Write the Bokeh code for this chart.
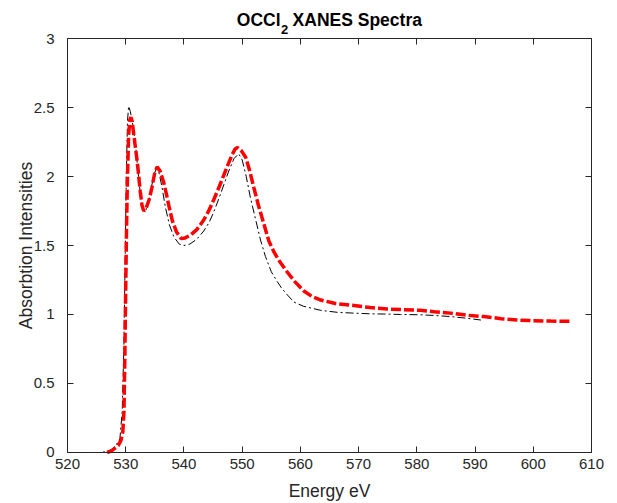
import math
from bokeh.plotting import figure
from bokeh.models import LinearAxis, Range1d, FixedTicker
from bokeh.core.properties import value
from bokeh.embed import file_html
from bokeh.resources import INLINE

# ---- data ----
x_ticks = [520, 530, 540, 550, 560, 570, 580, 590, 600, 610]
y_ticks = [0, 0.5, 1, 1.5, 2, 2.5, 3]
y_tick_labels = ["0", "0.5", "1", "1.5", "2", "2.5", "3"]
title_main = "OCCl"
title_sub = "2"
title_rest = "XANES Spectra"
x_label = "Energy eV"
y_label = "Absorbtion Intensities"

# dash-dot black series
black_e = [524.2, 525.5, 526.5, 527.5, 528.3, 529.0, 529.4, 529.7, 529.9, 530.1,
           530.3, 530.5, 530.8, 531.2, 531.7, 532.2, 532.6, 533.0, 533.4, 533.9,
           534.4, 534.9, 535.3, 535.7, 536.2, 536.8, 537.5, 538.3, 539.2, 540.0,
           541.0, 542.2, 543.4, 544.3, 545.1, 546.0, 546.85, 547.7, 548.6, 549.4,
           550.0, 550.7, 551.4, 552.3, 553.15, 554.0, 555.0, 556.0, 556.8, 557.8,
           558.9, 560.5, 563.5, 566.5, 569.2, 572.0, 575.0, 577.2, 580.6, 583.0,
           585.8, 588.5, 591.0]
black_i = [0.00, 0.00, 0.005, 0.02, 0.05, 0.10, 0.30, 0.80, 1.40, 2.00,
           2.40, 2.51, 2.47, 2.38, 2.22, 2.00, 1.84, 1.76, 1.75, 1.81,
           1.92, 2.02, 2.06, 2.03, 1.93, 1.78, 1.65, 1.56, 1.51, 1.50,
           1.51, 1.545, 1.605, 1.665, 1.74, 1.84, 1.94, 2.04, 2.13, 2.165,
           2.12, 2.00, 1.85, 1.69, 1.54, 1.42, 1.31, 1.24, 1.19, 1.14,
           1.09, 1.06, 1.03, 1.015, 1.01, 1.005, 1.003, 1.0, 0.998, 0.993,
           0.985, 0.973, 0.96]

# dashed red series
red_e = [526.8, 527.5, 528.0, 528.7, 529.2, 529.5, 529.7, 529.85, 530.0, 530.15,
         530.3, 530.5, 530.7, 530.9, 531.1, 531.4, 532.0, 532.5, 532.8, 533.1,
         533.5, 534.0, 534.5, 535.0, 535.4, 535.9, 536.5, 537.0, 537.4, 538.0,
         538.7, 539.5, 540.2, 541.1, 542.2, 543.4, 544.3, 545.1, 546.0, 546.85,
         547.6, 548.3, 548.8, 549.2, 549.8, 550.6, 551.3, 552.0, 552.8, 553.7,
         554.6, 555.5, 556.5, 557.7, 559.0, 560.6, 562.0, 563.5, 566.0, 569.2,
         572.0, 574.9, 577.5, 580.6, 583.0, 585.8, 588.5, 591.5, 594.5, 597.2,
         600.0, 603.0, 606.7]
red_i = [0.00, 0.01, 0.027, 0.05, 0.09, 0.15, 0.30, 0.70, 1.20, 1.65,
         2.00, 2.30, 2.41, 2.43, 2.40, 2.30, 2.10, 1.89, 1.79, 1.75,
         1.77, 1.83, 1.92, 2.03, 2.07, 2.04, 1.96, 1.87, 1.79, 1.68,
         1.60, 1.55, 1.555, 1.575, 1.615, 1.685, 1.755, 1.83, 1.92, 2.01,
         2.09, 2.16, 2.20, 2.21, 2.19, 2.14, 2.04, 1.92, 1.79, 1.66,
         1.53, 1.45, 1.38, 1.31, 1.24, 1.17, 1.13, 1.105, 1.08, 1.065,
         1.05, 1.04, 1.035, 1.03, 1.02, 1.01, 0.995, 0.985, 0.97, 0.96,
         0.955, 0.952, 0.95]

FONT = "Liberation Sans"
AX = "#262626"
X_BOX = (520, 610)          # the axes box
Y_BOX = (0.0, 3.0)
X_VIEW = (508.492, 613.092)  # whole canvas is the plot area; the box sits inside it
Y_VIEW = (-0.3696, 3.2754)

p = figure(width=609, height=503, output_backend="svg", toolbar_location=None,
           x_range=Range1d(*X_VIEW), y_range=Range1d(*Y_VIEW),
           min_border=0, min_border_left=0, min_border_right=0,
           min_border_top=0, min_border_bottom=0)
p.xgrid.visible = False
p.ygrid.visible = False
p.outline_line_color = None
p.background_fill_color = "white"
p.border_fill_color = "white"

def style(ax, labels=True):
    ax.axis_line_color = AX
    ax.major_tick_line_color = AX
    ax.major_tick_in = 6
    ax.major_tick_out = 0
    ax.minor_tick_line_color = None
    ax.major_label_text_font = FONT
    ax.major_label_text_color = AX
    if labels:
        ax.major_label_text_font_size = "15px"
    else:
        ax.major_label_text_font_size = "0px"
        ax.major_label_standoff = 0

xa = p.xaxis[0]
ya = p.yaxis[0]
xa.ticker = FixedTicker(ticks=x_ticks)
xa.fixed_location = Y_BOX[0]
xa.bounds = X_BOX
ya.ticker = FixedTicker(ticks=y_ticks)
ya.fixed_location = X_BOX[0]
ya.bounds = Y_BOX
ya.major_label_overrides = {t: l for t, l in zip(y_ticks, y_tick_labels)}
style(xa)
style(ya)
xa.major_label_standoff = 7
ya.major_label_standoff = 13

top = LinearAxis(ticker=FixedTicker(ticks=x_ticks), fixed_location=Y_BOX[1], bounds=X_BOX)
right = LinearAxis(ticker=FixedTicker(ticks=y_ticks), fixed_location=X_BOX[1], bounds=Y_BOX)
style(top, labels=False)
style(right, labels=False)
p.add_layout(top, "above")
p.add_layout(right, "right")

# axis titles
lab = dict(text_font=value(FONT), text_font_size="17.5px", text_color=AX,
           text_align="center", text_baseline="alphabetic")
p.text(x=[(X_BOX[0] + X_BOX[1]) / 2], y=[-0.279], text=[x_label], **lab)
p.text(x=[512.87], y=[(Y_BOX[0] + Y_BOX[1]) / 2], text=[y_label], angle=math.pi / 2, **lab)

# title with a lowered subscript
TX = 556.6      # join point between "OCCl" and the subscript (x-axis units)
TY = 3.134      # baseline of the main title text (y-axis units)
TY_SUB = 3.065  # baseline of the subscript
common = dict(text_font=value(FONT), text_font_style="bold", text_color="black",
              text_baseline="alphabetic")
p.text(x=[TX], y=[TY], text=[title_main], text_font_size="17.5px",
       text_align="right", **common)
p.text(x=[TX], y=[TY_SUB], x_offset=0.5, text=[title_sub], text_font_size="13px",
       text_align="left", **common)
p.text(x=[TX], y=[TY], x_offset=12, text=[title_rest], text_font_size="17.5px",
       text_align="left", **common)

p.line(black_e, black_i, line_color="black", line_width=1, line_dash="8 3 2 3")
p.line(red_e, red_i, line_color="red", line_width=3.5, line_dash="10 3")

open("out.html", "w").write(file_html(p, INLINE))
